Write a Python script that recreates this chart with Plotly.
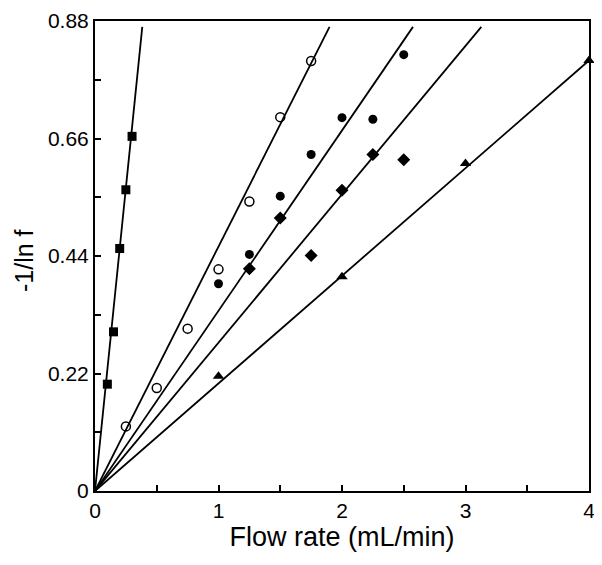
import plotly.graph_objects as go

# Data
sq_x = [0.1, 0.15, 0.2, 0.25, 0.3]
sq_y = [0.200, 0.298, 0.454, 0.564, 0.664]

oc_x = [0.25, 0.5, 0.75, 1.0, 1.25, 1.5, 1.75]
oc_y = [0.121, 0.193, 0.304, 0.415, 0.542, 0.700, 0.805]

fc_x = [1.0, 1.25, 1.5, 1.75, 2.0, 2.25, 2.5]
fc_y = [0.388, 0.443, 0.552, 0.630, 0.699, 0.696, 0.817]

dm_x = [1.25, 1.5, 1.75, 2.0, 2.25, 2.5]
dm_y = [0.416, 0.511, 0.441, 0.563, 0.630, 0.620]

tr_x = [1.0, 2.0, 3.0, 4.0]
tr_y = [0.215, 0.401, 0.613, 0.806]

# fitted line slopes (through origin) and line top value
fit_slopes = [2.27, 0.4576, 0.3375, 0.2778, 0.2015]
line_top = 0.869
x_max = 4.0

x_ticks = [0, 0.5, 1, 1.5, 2, 2.5, 3, 3.5, 4]
x_text = ["0", "", "1", "", "2", "", "3", "", "4"]
y_ticks = [0, 0.11, 0.22, 0.33, 0.44, 0.55, 0.66, 0.77, 0.88]
y_text = ["0", "", "0.22", "", "0.44", "", "0.66", "", "0.88"]

fig = go.Figure()

for s in fit_slopes:
    xe = min(x_max, line_top / s)
    fig.add_trace(go.Scatter(x=[0, xe], y=[0, s * xe], mode="lines",
                             line=dict(color="black", width=1.8),
                             showlegend=False, hoverinfo="skip"))

fig.add_trace(go.Scatter(x=sq_x, y=sq_y, mode="markers",
                         marker=dict(symbol="square", size=9, color="black"),
                         showlegend=False))
fig.add_trace(go.Scatter(x=oc_x, y=oc_y, mode="markers",
                         marker=dict(symbol="circle-open", size=9, color="black",
                                     line=dict(width=1.5)),
                         showlegend=False))
fig.add_trace(go.Scatter(x=fc_x, y=fc_y, mode="markers",
                         marker=dict(symbol="circle", size=9, color="black"),
                         showlegend=False))
fig.add_trace(go.Scatter(x=dm_x, y=dm_y, mode="markers",
                         marker=dict(symbol="diamond", size=10, color="black"),
                         showlegend=False))
fig.add_trace(go.Scatter(x=tr_x, y=tr_y, mode="markers",
                         marker=dict(symbol="triangle-up", size=10, color="black"),
                         showlegend=False, cliponaxis=False))

fig.add_annotation(text="-1/ln f", xref="paper", yref="paper", x=0, y=0.5,
                   xanchor="center", yanchor="middle", textangle=-90,
                   xshift=-71, yshift=-5, showarrow=False,
                   font=dict(size=25, color="black"))

fig.update_layout(
    width=594, height=557,
    margin=dict(l=87, r=13, t=13, b=74, autoexpand=False),
    paper_bgcolor="white", plot_bgcolor="white",
    font=dict(family="Liberation Sans, Arial, sans-serif", color="black"),
    xaxis=dict(range=[0, 4], tickvals=x_ticks, ticktext=x_text,
               ticks="inside", ticklen=6, tickwidth=1.5, tickcolor="black",
               showline=True, linewidth=2, linecolor="black", mirror=True,
               showgrid=False, zeroline=False, automargin=False,
               tickfont=dict(size=21),
               title=dict(text="Flow rate (mL/min)", font=dict(size=27), standoff=6)),
    yaxis=dict(range=[0, 0.88], tickvals=y_ticks, ticktext=y_text,
               ticks="inside", ticklen=6, tickwidth=1.5, tickcolor="black",
               showline=True, linewidth=2, linecolor="black", mirror=True,
               showgrid=False, zeroline=False, automargin=False,
               tickfont=dict(size=21)),
)

fig.write_html("out.html")
